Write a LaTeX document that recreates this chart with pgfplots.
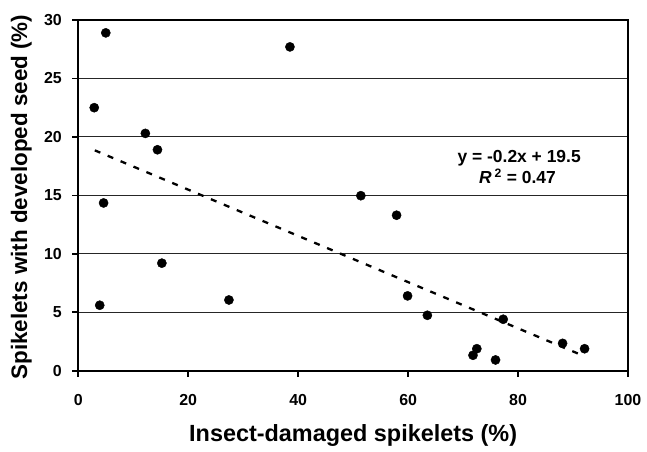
\documentclass[border=0pt]{standalone}
\usepackage{fontspec}
\setmainfont{Liberation Sans}
\usepackage{pgfplots}
\pgfplotsset{compat=1.18}

\begin{document}
\begin{tikzpicture}
\begin{axis}[
    at={(0,0)}, anchor=south west,
    scale only axis,
    width=549.7bp, height=350.7bp,
    xmin=0, xmax=100,
    ymin=0, ymax=30,
    xtick={0,20,...,100},
    ytick={0,5,...,30},
    tick pos=left,
    tick align=outside,
    major tick length=6bp,
    tick style={black, line width=1.6bp},
    axis line style={line width=2.2bp},
    ymajorgrids,
    major grid style={black!85, line width=1bp},
    /pgf/number format/assume math mode=true,
    ticklabel style={font=\bfseries\fontsize{16}{18}\selectfont},
    xticklabel style={yshift=-14bp},
    yticklabel style={xshift=-7bp},
    xlabel={Insect-damaged spikelets (\%)},
    ylabel={Spikelets with developed seed (\%)},
    xlabel style={at={(axis description cs:0.5,-0.2025)}, anchor=base,
        font=\bfseries\fontsize{23.5}{26}\selectfont},
    ylabel style={at={(axis description cs:-0.0933,0.495)}, anchor=base,
        font=\bfseries\fontsize{22.5}{26}\selectfont},
    clip=false,
]
% observations
\addplot[only marks, mark=*, mark size=4.6bp, black]
    coordinates {
    (5.0,28.9) (2.9,22.5) (12.2,20.3) (14.4,18.9) (4.6,14.35)
    (15.2,9.2) (3.9,5.6) (27.4,6.05) (38.5,27.7) (51.4,14.97)
    (57.9,13.3) (59.9,6.4) (63.5,4.74) (77.3,4.4) (72.5,1.88)
    (71.8,1.32) (75.9,0.92) (88.1,2.34) (92.1,1.88)
    };
% linear trend
\addplot[black, line width=2.3bp, dash pattern=on 6bp off 8bp]
    coordinates {(3.0,18.85) (91.5,1.35)};

\node[anchor=base, font=\bfseries\fontsize{17.5}{20}\selectfont]
    at (axis cs:80.2,17.8) {y = -0.2x + 19.5};
\node[anchor=base, font=\bfseries\fontsize{17.5}{20}\selectfont]
    at (axis cs:79.9,16.03) {\textit{R}\,\textsuperscript{2} = 0.47};
\end{axis}
\path (-78.3bp,-81.3bp) rectangle (568.7bp,370.7bp);
\end{tikzpicture}
\end{document}
